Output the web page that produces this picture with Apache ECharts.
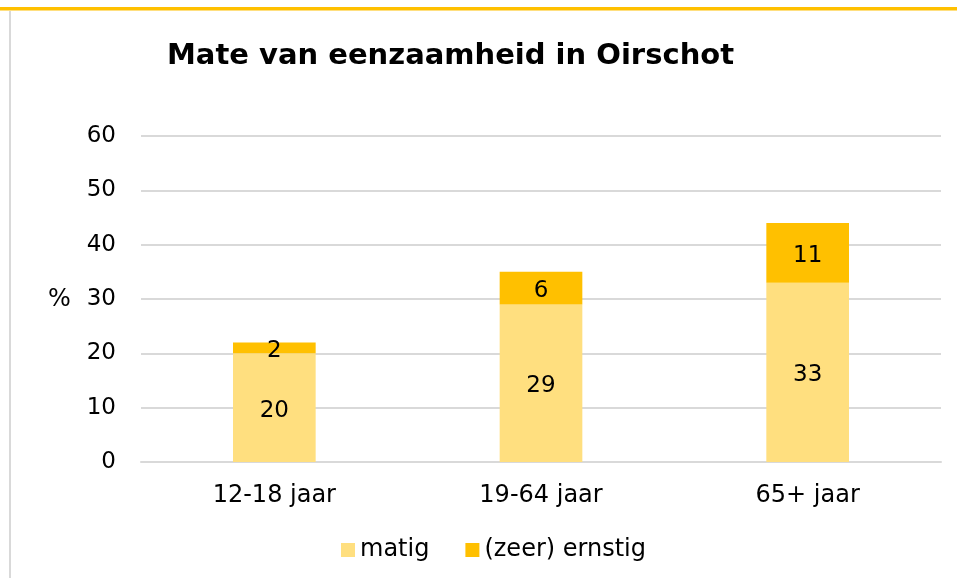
<!DOCTYPE html>
<html>
<head>
<meta charset="utf-8">
<script src="https://cdn.jsdelivr.net/npm/echarts@6/dist/echarts.min.js"></script>
<style>
  html, body { margin: 0; padding: 0; background: #ffffff; }
  #chart { width: 957px; height: 578px; }
</style>
</head>
<body>
<div id="chart"></div>
<script>
// Leeftijdsgroepen en percentages per mate van eenzaamheid
const categories = ['12-18 jaar', '19-64 jaar', '65+ jaar'];
const matig = [20, 29, 33];
const ernstig = [2, 6, 11];
const yTicks = { min: 0, max: 60, interval: 10 };

const FONT = '"DejaVu Sans", Verdana, sans-serif';

const chart = echarts.init(document.getElementById('chart'), null, { renderer: 'canvas' });

const labelStyle = {
  show: true,
  position: 'inside',
  offset: [0, 3],
  color: '#000000',
  fontFamily: FONT,
  fontSize: 23
};

chart.setOption({
  backgroundColor: '#ffffff',
  animation: false,
  title: {
    text: 'Mate van eenzaamheid in Oirschot',
    left: 162,
    top: 37,
    textStyle: { fontFamily: FONT, fontWeight: 'bold', fontSize: 29, color: '#000000' }
  },
  graphic: [
    // kaderrand: gele lijn boven, grijze lijn links
    { type: 'rect', shape: { x: 0, y: 7, width: 957, height: 3.5 }, style: { fill: '#FFC000' }, silent: true },
    { type: 'rect', shape: { x: 9, y: 11, width: 2, height: 567 }, style: { fill: '#D9D9D9' }, silent: true },
    { type: 'text', left: 48, top: 288, style: { text: '%', font: '24px ' + FONT, fill: '#000000' } }
  ],
  legend: {
    left: 336,
    top: 533,
    itemWidth: 14,
    itemHeight: 14,
    itemGap: 36,
    icon: 'rect',
    textStyle: { fontFamily: FONT, fontSize: 24, color: '#000000' },
    data: ['matig', '(zeer) ernstig']
  },
  grid: { left: 141, right: 16, top: 136, bottom: 116, containLabel: false },
  xAxis: {
    type: 'category',
    data: categories,
    axisLine: { show: true, lineStyle: { color: '#D9D9D9', width: 2 } },
    axisTick: { show: false },
    axisLabel: { margin: 22, fontFamily: FONT, fontSize: 24, color: '#000000' }
  },
  yAxis: {
    type: 'value',
    min: yTicks.min,
    max: yTicks.max,
    interval: yTicks.interval,
    axisLine: { show: false },
    axisTick: { show: false },
    splitLine: { lineStyle: { color: '#D9D9D9', width: 2 } },
    axisLabel: { margin: 25, fontFamily: FONT, fontSize: 23, color: '#000000' }
  },
  series: [
    {
      name: 'matig',
      type: 'bar',
      stack: 'totaal',
      data: matig,
      barWidth: '31%',
      itemStyle: { color: '#FFDF7F' },
      label: labelStyle
    },
    {
      name: '(zeer) ernstig',
      type: 'bar',
      stack: 'totaal',
      data: ernstig,
      barWidth: '31%',
      itemStyle: { color: '#FFC000' },
      label: labelStyle
    }
  ]
});
</script>
</body>
</html>
